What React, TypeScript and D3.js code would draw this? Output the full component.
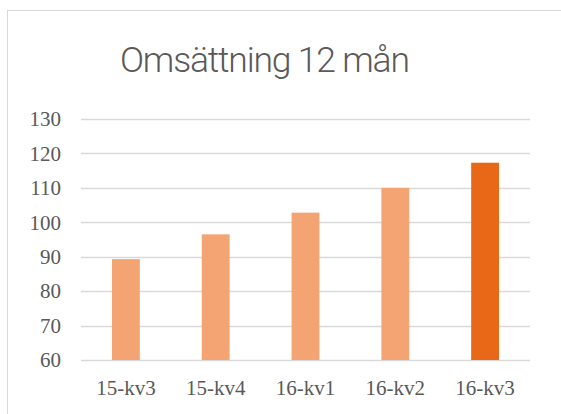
import * as d3 from "d3";

const quarters = ["15-kv3", "15-kv4", "16-kv1", "16-kv2", "16-kv3"];
const revenue = [89.3, 96.5, 102.8, 110.0, 117.3];
const yTicks = [60, 70, 80, 90, 100, 110, 120, 130];

export default function App() {
  const width = 561;
  const height = 414;
  const left = 81;
  const right = 530;
  const top = 119;
  const bottom = 360;

  const x = d3
    .scaleBand<string>()
    .domain(quarters)
    .range([left, right])
    .paddingInner(0.69)
    .paddingOuter(0.345);

  const y = d3.scaleLinear().domain([60, 130]).range([bottom, top]);

  const textColor = "#595959";
  const serif = "Liberation Serif";

  return (
    <svg
      width={width}
      height={height}
      style={{ position: "absolute", left: 0, top: 0, background: "#fff" }}
    >
      {/* chart border (extends past the viewport right and bottom) */}
      <rect
        x={7.5}
        y={10.5}
        width={width + 20}
        height={height + 20}
        fill="#fff"
        stroke="#d9d9d9"
        strokeWidth={1}
      />

      <text
        x={265}
        y={72}
        textAnchor="middle"
        fill={textColor}
        fontFamily="Roboto"
        fontWeight={300}
        fontSize={35.5}
        textLength={290}
        lengthAdjust="spacing"
      >
        Omsättning 12 mån
      </text>

      {/* gridlines */}
      {yTicks.map((t) => (
        <line
          key={t}
          x1={left}
          x2={right}
          y1={Math.round(y(t)) + 0.5}
          y2={Math.round(y(t)) + 0.5}
          stroke="#d9d9d9"
          strokeWidth={1.5}
        />
      ))}

      {/* y tick labels */}
      {yTicks.map((t) => (
        <text
          key={"l" + t}
          x={61}
          y={y(t)}
          dy="0.35em"
          textAnchor="end"
          fill={textColor}
          fontFamily={serif}
          fontSize={21}
        >
          {t}
        </text>
      ))}

      {/* bars */}
      {quarters.map((q, i) => (
        <rect
          key={q}
          x={x(q)}
          y={y(revenue[i])}
          width={x.bandwidth()}
          height={y(60) - y(revenue[i])}
          fill={i === quarters.length - 1 ? "#e96818" : "#f4a473"}
        />
      ))}

      {/* x labels */}
      {quarters.map((q) => (
        <text
          key={"x" + q}
          x={(x(q) ?? 0) + x.bandwidth() / 2}
          y={395}
          textAnchor="middle"
          fill={textColor}
          fontFamily={serif}
          fontSize={21}
        >
          {q}
        </text>
      ))}
    </svg>
  );
}
